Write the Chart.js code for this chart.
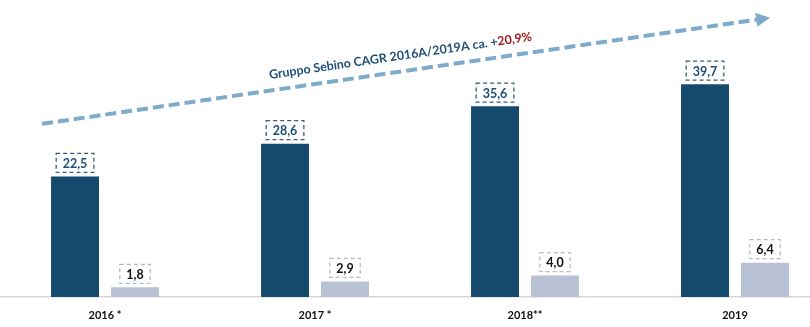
<!DOCTYPE html>
<html lang="it">
<head>
  <meta charset="UTF-8">
  <title>Gruppo Sebino</title>
  <script src="https://cdn.jsdelivr.net/npm/chart.js"></script>
  <style>
    html, body { margin: 0; padding: 0; overflow: hidden; background: #fff; }
    #wrap { width: 840px; height: 327px; }
  </style>
</head>
<body>
  <div id="wrap"><canvas id="sebinoChart" width="840" height="327"></canvas></div>

  <script>
    // Data
    const years = ['2016 *', '2017 *', '2018**', '2019'];
    const darkValues = [22.5, 28.6, 35.6, 39.7];
    const lightValues = [1.8, 2.9, 4.0, 6.4];
    const cagrText = 'Gruppo Sebino CAGR 2016A/2019A ca. +';
    const cagrValue = '20,9%';

    const fmt = v => v.toFixed(1).replace('.', ',');

    // dashed value boxes above bars
    const valueBoxes = {
      id: 'valueBoxes',
      afterDatasetsDraw(chart) {
        const ctx = chart.ctx;
        const styles = [
          { border: '#3b5a78', text: '#1f4e79' },
          { border: '#b4bccb', text: '#111111' }
        ];
        ctx.save();
        ctx.font = 'bold 12.5px Lato';
        ctx.textAlign = 'center';
        ctx.textBaseline = 'middle';
        chart.data.datasets.forEach((ds, di) => {
          chart.getDatasetMeta(di).data.forEach((bar, i) => {
            const label = fmt(ds.data[i]);
            const w = ctx.measureText(label).width + 13;
            const h = 19;
            const x = bar.x - w / 2;
            const y = bar.y - 4 - h;
            ctx.setLineDash([4, 3]);
            ctx.lineWidth = 1.3;
            ctx.strokeStyle = styles[di].border;
            ctx.strokeRect(x, y, w, h);
            ctx.setLineDash([]);
            ctx.fillStyle = styles[di].text;
            ctx.fillText(label, bar.x, y + h / 2 + 1);
          });
        });
        ctx.restore();
      }
    };

    // growth arrow with CAGR text
    const cagrArrow = {
      id: 'cagrArrow',
      afterDraw(chart) {
        const ctx = chart.ctx;
        const xs = chart.scales.x, ys = chart.scales.y;
        const step = xs.getPixelForValue(1) - xs.getPixelForValue(0);
        const x0 = xs.getPixelForValue(0) - 0.3 * step;
        const x1 = xs.getPixelForValue(3) + 0.167 * step;
        const y0 = ys.getPixelForValue(32.3);
        const y1 = ys.getPixelForValue(52.1);
        const ang = Math.atan2(y1 - y0, x1 - x0);
        ctx.save();
        ctx.strokeStyle = '#7fabca';
        ctx.fillStyle = '#7fabca';
        ctx.lineWidth = 4;
        ctx.setLineDash([11, 5]);
        const hx = x1 - 12 * Math.cos(ang), hy = y1 - 12 * Math.sin(ang);
        ctx.beginPath();
        ctx.moveTo(x0, y0);
        ctx.lineTo(hx, hy);
        ctx.stroke();
        ctx.setLineDash([]);
        ctx.translate(x1, y1);
        ctx.rotate(ang);
        ctx.beginPath();
        ctx.moveTo(0, 0);
        ctx.lineTo(-14, -7);
        ctx.lineTo(-14, 7);
        ctx.closePath();
        ctx.fill();
        ctx.restore();

        // text
        ctx.save();
        ctx.font = 'bold 12.4px Lato';
        const w1 = ctx.measureText(cagrText).width;
        const w2 = ctx.measureText(cagrValue).width;
        const cx = (x0 + x1) / 2 - 5;
        const cy = (y0 + y1) / 2 - 11;
        ctx.translate(cx, cy);
        ctx.rotate(ang);
        ctx.textBaseline = 'alphabetic';
        ctx.textAlign = 'left';
        const start = -(w1 + w2) / 2;
        ctx.fillStyle = '#1f4e79';
        ctx.fillText(cagrText, start, 0);
        ctx.fillStyle = '#9b1b1b';
        ctx.fillText(cagrValue, start + w1, 0);
        ctx.restore();
      }
    };

    const ctx = document.getElementById('sebinoChart').getContext('2d');
    new Chart(ctx, {
      type: 'bar',
      data: {
        labels: years,
        datasets: [
          {
            data: darkValues,
            backgroundColor: '#154a6e',
            barPercentage: 0.8,
            categoryPercentage: 0.571
          },
          {
            data: lightValues,
            backgroundColor: '#b9c2d4',
            barPercentage: 0.8,
            categoryPercentage: 0.571
          }
        ]
      },
      options: {
        responsive: false,
        animation: false,
        layout: { padding: 0 },
        plugins: {
          legend: { display: false },
          tooltip: { enabled: false }
        },
        scales: {
          x: {
            grid: { display: false, drawTicks: false },
            border: { display: true, color: '#d6d6d6', width: 1.5 },
            afterFit: scale => { scale.height = 30; },
            ticks: {
              color: '#111',
              padding: 12,
              font: { family: 'Lato', weight: 'bold', size: 11 }
            }
          },
          y: {
            display: false,
            min: 0,
            max: 55.4
          }
        }
      },
      plugins: [valueBoxes, cagrArrow]
    });
  </script>
</body>
</html>
